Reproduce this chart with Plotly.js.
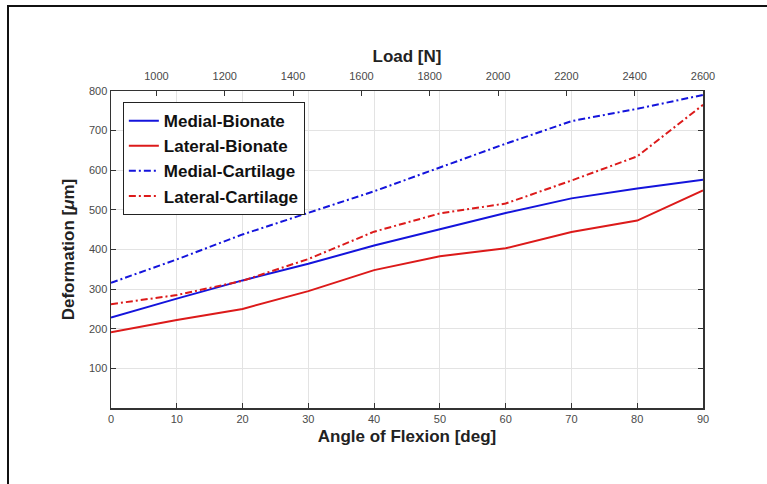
<!DOCTYPE html>
<html>
<head>
<meta charset="utf-8">
<script src="https://cdn.plot.ly/plotly-3.0.1.min.js"></script>
<style>
  html, body { margin: 0; padding: 0; background: #fff; }
  #wrap { position: relative; width: 767px; height: 484px; overflow: hidden; }
  #frame { position: absolute; left: 7px; top: 5px; width: 800px; height: 520px;
           border-left: 2px solid #111; border-top: 2px solid #111; pointer-events: none; }
  #chart { position: absolute; left: 0; top: 0; width: 767px; height: 484px; }
</style>
</head>
<body>
<div id="wrap">
  <div id="chart"></div>
  <div id="frame"></div>
</div>
<script>
// Angle of flexion (deg)
const angles = [0, 10, 20, 30, 40, 50, 60, 70, 80, 90];
// Deformation (micrometres)
const medialBionate    = [228, 276, 322, 364, 410, 451, 492, 529, 554, 576];
const lateralBionate   = [191, 222, 250, 295, 348, 383, 403, 444, 473, 549];
const medialCartilage  = [316, 375, 438, 493, 547, 607, 667, 724, 755, 790];
const lateralCartilage = [262, 285, 321, 376, 445, 491, 516, 574, 635, 765];
// Top axis: load (N)
const loadTicks = [1000, 1200, 1400, 1600, 1800, 2000, 2200, 2400, 2600];
const loadRange = [867, 2600];
const yTicks = [100, 200, 300, 400, 500, 600, 700, 800];
const xTicks = [0, 10, 20, 30, 40, 50, 60, 70, 80, 90];

const BLUE = '#1414dc';
const RED = '#dc1a1a';
const dashDot = '7px,3px,2px,3px';

const traces = [
  {x: angles, y: medialBionate, name: 'Medial-Bionate', mode: 'lines',
   line: {color: BLUE, width: 2}},
  {x: angles, y: lateralBionate, name: 'Lateral-Bionate', mode: 'lines',
   line: {color: RED, width: 2}},
  {x: angles, y: medialCartilage, name: 'Medial-Cartilage', mode: 'lines',
   line: {color: BLUE, width: 2, dash: dashDot}},
  {x: angles, y: lateralCartilage, name: 'Lateral-Cartilage', mode: 'lines',
   line: {color: RED, width: 2, dash: dashDot}},
  {x: loadTicks, y: loadTicks.map(() => null), xaxis: 'x2', yaxis: 'y',
   mode: 'lines', showlegend: false, hoverinfo: 'skip'}
];

const tickFont = {family: 'Liberation Sans, Arial, sans-serif', size: 11, color: '#4a4a4a'};
const titleFont = {family: 'Liberation Sans, Arial, sans-serif', size: 17, color: '#222', weight: 'bold'};

const layout = {
  width: 767, height: 484,
  margin: {l: 111, r: 64, t: 91, b: 76},
  paper_bgcolor: '#fff', plot_bgcolor: '#fff',
  showlegend: true,
  legend: {
    x: 0.02, y: 0.965, xanchor: 'left', yanchor: 'top',
    bgcolor: '#fff', bordercolor: '#222', borderwidth: 1,
    font: {family: 'Liberation Sans, Arial, sans-serif', size: 17, color: '#111', weight: 'bold'},
    tracegroupgap: 0, itemwidth: 30
  },
  xaxis: {
    range: [0, 90], tickvals: xTicks, ticks: 'inside', ticklen: 5,
    tickcolor: '#333', showline: true, linecolor: '#333', linewidth: 1.5, mirror: true,
    showgrid: true, gridcolor: '#e3e3e3', zeroline: false,
    tickfont: tickFont,
    title: {text: 'Angle of Flexion [deg]', font: titleFont, standoff: 6}
  },
  xaxis2: {
    overlaying: 'x', side: 'top', anchor: 'y', range: loadRange,
    tickvals: loadTicks, ticks: 'inside', ticklen: 5, tickcolor: '#333',
    ticklabelstandoff: 8,
    showgrid: false, zeroline: false, showline: false,
    tickfont: tickFont,
    title: {text: 'Load [N]', font: titleFont, standoff: 2}
  },
  yaxis: {
    range: [0, 800], tickvals: yTicks, ticks: 'inside', ticklen: 5,
    tickcolor: '#333', showline: true, linecolor: '#333', linewidth: 1.5, mirror: 'ticks',
    showgrid: true, gridcolor: '#e3e3e3', zeroline: false,
    tickfont: tickFont,
    title: {text: 'Deformation [<i>μ</i>m]', font: titleFont, standoff: 10}
  }
};

Plotly.newPlot('chart', traces, layout, {displayModeBar: false, staticPlot: true});
</script>
</body>
</html>
